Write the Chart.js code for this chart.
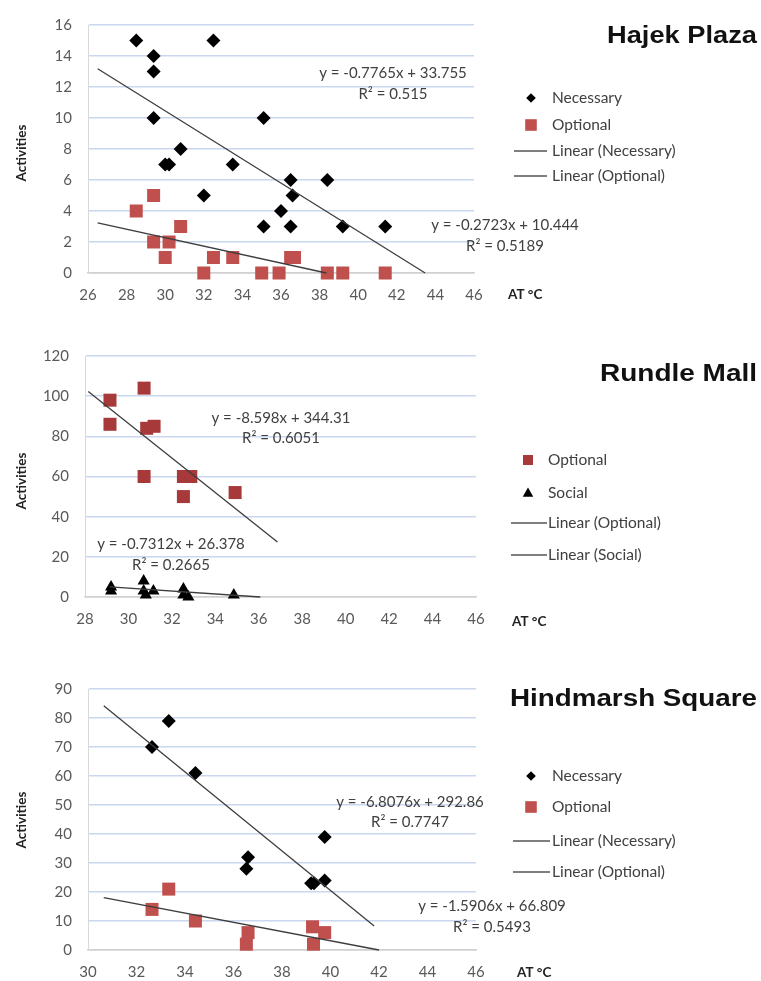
<!DOCTYPE html>
<html>
<head>
<meta charset="utf-8">
<title>Activities vs AT</title>
<script src="https://cdn.jsdelivr.net/npm/chart.js@4.4.1/dist/chart.umd.min.js"></script>
<style>
  body { margin: 0; background: #fff; }
  #wrap { position: relative; width: 761px; height: 981px; }
  canvas { position: absolute; left: 0; }
</style>
</head>
<body>
<div id="wrap">
  <canvas id="hajek" width="761" height="320" style="top:0"></canvas>
  <canvas id="rundle" width="761" height="320" style="top:320px"></canvas>
  <canvas id="hind" width="761" height="341" style="top:640px"></canvas>
</div>
<script>
// ---- Hajek Plaza ----
const hajekNecX = [28.5, 29.4, 29.4, 32.5, 29.4, 30.8, 30.0, 30.2, 33.5, 35.1, 32.0, 36.5, 36.6, 36.0, 35.1, 36.5, 38.4, 39.2, 41.4];
const hajekNecY = [15, 14, 13, 15, 10, 8, 7, 7, 7, 10, 5, 6, 5, 4, 3, 3, 6, 3, 3];
const hajekOptX = [28.5, 29.4, 29.4, 30.2, 30.0, 30.8, 32.0, 32.5, 33.5, 35.0, 35.9, 36.5, 36.7, 38.4, 39.2, 41.4];
const hajekOptY = [4, 5, 2, 2, 1, 3, 0, 1, 1, 0, 0, 1, 1, 0, 0, 0];
const hajekNecTrendX = [26.5, 43.47];
const hajekNecTrendY = [13.18, 0];
const hajekOptTrendX = [26.5, 38.35];
const hajekOptTrendY = [3.23, 0];

// ---- Rundle Mall ----
const rundleOptX = [29.15, 29.15, 30.72, 30.84, 31.18, 30.72, 32.53, 32.87, 32.53, 34.91];
const rundleOptY = [98, 86, 104, 84, 85, 60, 60, 60, 50, 52];
const rundleSocX = [29.2, 29.2, 30.7, 30.7, 30.8, 31.15, 32.53, 32.53, 32.76, 34.85];
const rundleSocY = [5, 3, 8, 3, 1, 3, 4, 1, 0, 1];
const rundleOptTrendX = [28.15, 36.86];
const rundleOptTrendY = [102.3, 27.4];
const rundleSocTrendX = [29.15, 36.07];
const rundleSocTrendY = [5.06, 0];

// ---- Hindmarsh Square ----
const hindNecX = [33.33, 32.64, 34.43, 36.6, 36.53, 39.2, 39.32, 39.76, 39.76];
const hindNecY = [79, 70, 61, 32, 28, 23, 23, 39, 24];
const hindOptX = [32.64, 33.33, 34.43, 36.6, 36.53, 39.26, 39.3, 39.76];
const hindOptY = [14, 21, 10, 6, 2, 8, 2, 6];
const hindNecTrendX = [30.65, 41.8];
const hindNecTrendY = [84.2, 8.3];
const hindOptTrendX = [30.65, 42.0];
const hindOptTrendY = [18.06, 0];

const RED = '#c0504d';
const RED_DARK = '#a8393a';
const LINE = '#3d3d3d';
const GRID = '#c9d8ef';
const TICK_FONT = { family: 'Lato, "Open Sans", sans-serif', size: 15 };
const TEXT_FONT = 'Lato, "Open Sans", sans-serif';

function pts(xs, ys) {
  return xs.map((x, i) => ({ x: x, y: ys[i] }));
}

function drawMarker(ctx, style, x, y, r, color) {
  ctx.fillStyle = color;
  ctx.beginPath();
  if (style === 'diamond') {
    ctx.moveTo(x, y - r); ctx.lineTo(x + r, y); ctx.lineTo(x, y + r); ctx.lineTo(x - r, y);
  } else if (style === 'square') {
    ctx.rect(x - r, y - r, 2 * r, 2 * r);
  } else {
    ctx.moveTo(x, y - r); ctx.lineTo(x + r * 0.95, y + r * 0.7); ctx.lineTo(x - r * 0.95, y + r * 0.7);
  }
  ctx.closePath();
  ctx.fill();
}

// titles, legends, equations and axis names
const overlay = {
  id: 'overlay',
  afterDraw(chart, args, o) {
    const ctx = chart.ctx;
    const dy = o.top;
    ctx.save();

    // title is wide in the source, stretch it to its width
    ctx.fillStyle = '#111';
    ctx.font = 'bold 23px "Liberation Sans", Arial, sans-serif';
    ctx.textAlign = 'left';
    ctx.textBaseline = 'middle';
    const tw = ctx.measureText(o.title).width;
    ctx.save();
    ctx.translate(757 - o.titleW, o.titleY - dy);
    ctx.scale(o.titleW / tw, 1);
    ctx.fillText(o.title, 0, 0);
    ctx.restore();

    // legend
    ctx.font = '15.5px ' + TEXT_FONT;
    o.legend.forEach(item => {
      const y = item.y - dy;
      if (item.kind === 'line') {
        ctx.strokeStyle = '#555';
        ctx.lineWidth = 1.3;
        ctx.beginPath();
        ctx.moveTo(o.lineX0, y); ctx.lineTo(o.lineX1, y);
        ctx.stroke();
      } else {
        drawMarker(ctx, item.kind, o.markerX, y, item.r, item.color);
      }
      ctx.fillStyle = '#404040';
      ctx.fillText(item.label, o.textX, y);
    });

    // trendline equations
    ctx.textAlign = 'center';
    ctx.fillStyle = '#404040';
    ctx.font = '15px ' + TEXT_FONT;
    o.notes.forEach(n => ctx.fillText(n.text, n.x, n.y - dy));

    // axis names
    ctx.font = 'bold 13.5px ' + TEXT_FONT;
    ctx.fillStyle = '#222';
    ctx.textAlign = 'left';
    ctx.fillText('AT \u00B0C', o.atX, o.atY - dy);
    ctx.translate(22, o.actY - dy);
    ctx.rotate(-Math.PI / 2);
    ctx.textAlign = 'center';
    ctx.fillText('Activities', 0, 0);
    ctx.restore();
  }
};

function makeChart(id, cfg) {
  const area = cfg.area;
  const h = document.getElementById(id).height;
  const datasets = [];
  cfg.trends.forEach(t => datasets.push({
    type: 'line',
    data: t,
    borderColor: LINE,
    borderWidth: 1.3,
    pointRadius: 0,
    fill: false,
    clip: false,
    order: 0
  }));
  cfg.series.forEach(s => datasets.push({
    type: 'scatter',
    data: s.data,
    pointStyle: s.style,
    pointRadius: s.r,
    pointHoverRadius: s.r,
    backgroundColor: s.color,
    borderColor: s.color,
    borderWidth: 0,
    clip: false,
    order: 1
  }));
  return new Chart(document.getElementById(id), {
    type: 'scatter',
    data: { datasets: datasets },
    options: {
      responsive: false,
      animation: false,
      events: [],
      layout: { padding: { left: 0, top: area.top, right: 761 - area.right, bottom: 0 } },
      plugins: {
        legend: { display: false },
        tooltip: { enabled: false },
        overlay: cfg.overlay
      },
      scales: {
        x: {
          type: 'linear',
          min: cfg.xMin, max: cfg.xMax,
          afterFit: axis => { axis.height = h - area.bottom; },
          grid: { display: false, drawTicks: false },
          border: { display: true, color: '#d0d0d0', width: 1.5 },
          ticks: { stepSize: 2, padding: 13, color: '#595959', font: TICK_FONT }
        },
        y: {
          min: 0, max: cfg.yMax,
          afterFit: axis => { axis.width = area.left; },
          grid: {
            drawTicks: false,
            lineWidth: 1.5,
            color: c => (c.tick && c.tick.value === 0) ? '#d0d0d0' : GRID
          },
          border: { display: true, color: '#d9d9d9', width: 1 },
          ticks: { stepSize: cfg.yStep, padding: 16, color: '#595959', font: TICK_FONT }
        }
      }
    },
    plugins: [overlay]
  });
}

makeChart('hajek', {
  area: { left: 88, top: 20, right: 474, bottom: 273 },
  xMin: 26, xMax: 46, yMax: 16, yStep: 2,
  trends: [pts(hajekNecTrendX, hajekNecTrendY), pts(hajekOptTrendX, hajekOptTrendY)],
  series: [
    { data: pts(hajekNecX, hajekNecY), style: 'rectRot', r: 7, color: '#000' },
    { data: pts(hajekOptX, hajekOptY), style: 'rect', r: 9.2, color: RED }
  ],
  overlay: {
    top: 0, title: 'Hajek Plaza', titleW: 150, titleY: 37,
    markerX: 531, textX: 552, lineX0: 514, lineX1: 547,
    legend: [
      { kind: 'diamond', r: 4.8, color: '#000', label: 'Necessary', y: 98 },
      { kind: 'square', r: 5.8, color: RED, label: 'Optional', y: 125 },
      { kind: 'line', label: 'Linear (Necessary)', y: 151 },
      { kind: 'line', label: 'Linear (Optional)', y: 176 }
    ],
    notes: [
      { text: 'y = -0.7765x + 33.755', x: 393, y: 73 },
      { text: 'R\u00B2 = 0.515', x: 393, y: 94 },
      { text: 'y = -0.2723x + 10.444', x: 505, y: 225 },
      { text: 'R\u00B2 = 0.5189', x: 505, y: 246 }
    ],
    atX: 508, atY: 295, actY: 153
  }
});

makeChart('rundle', {
  area: { left: 85, top: 36, right: 476, bottom: 277 },
  xMin: 28, xMax: 46, yMax: 120, yStep: 20,
  trends: [pts(rundleOptTrendX, rundleOptTrendY), pts(rundleSocTrendX, rundleSocTrendY)],
  series: [
    { data: pts(rundleOptX, rundleOptY), style: 'rect', r: 9.2, color: RED_DARK },
    { data: pts(rundleSocX, rundleSocY), style: 'triangle', r: 7, color: '#000' }
  ],
  overlay: {
    top: 320, title: 'Rundle Mall', titleW: 157, titleY: 375,
    markerX: 528, textX: 548, lineX0: 511, lineX1: 547,
    legend: [
      { kind: 'square', r: 5, color: RED_DARK, label: 'Optional', y: 460 },
      { kind: 'triangle', r: 5.5, color: '#000', label: 'Social', y: 493 },
      { kind: 'line', label: 'Linear (Optional)', y: 523 },
      { kind: 'line', label: 'Linear (Social)', y: 555 }
    ],
    notes: [
      { text: 'y = -8.598x + 344.31', x: 281, y: 418 },
      { text: 'R\u00B2 = 0.6051', x: 281, y: 438 },
      { text: 'y = -0.7312x + 26.378', x: 171, y: 544 },
      { text: 'R\u00B2 = 0.2665', x: 171, y: 565 }
    ],
    atX: 512, atY: 622, actY: 481
  }
});

makeChart('hind', {
  area: { left: 88, top: 49, right: 476, bottom: 310 },
  xMin: 30, xMax: 46, yMax: 90, yStep: 10,
  trends: [pts(hindNecTrendX, hindNecTrendY), pts(hindOptTrendX, hindOptTrendY)],
  series: [
    { data: pts(hindNecX, hindNecY), style: 'rectRot', r: 7, color: '#000' },
    { data: pts(hindOptX, hindOptY), style: 'rect', r: 9.2, color: RED }
  ],
  overlay: {
    top: 640, title: 'Hindmarsh Square', titleW: 247, titleY: 700,
    markerX: 531, textX: 552, lineX0: 513, lineX1: 550,
    legend: [
      { kind: 'diamond', r: 4.8, color: '#000', label: 'Necessary', y: 776 },
      { kind: 'square', r: 5.8, color: RED, label: 'Optional', y: 807 },
      { kind: 'line', label: 'Linear (Necessary)', y: 841 },
      { kind: 'line', label: 'Linear (Optional)', y: 872 }
    ],
    notes: [
      { text: 'y = -6.8076x + 292.86', x: 410, y: 802 },
      { text: 'R\u00B2 = 0.7747', x: 410, y: 822 },
      { text: 'y = -1.5906x + 66.809', x: 492, y: 906 },
      { text: 'R\u00B2 = 0.5493', x: 492, y: 927 }
    ],
    atX: 517, atY: 973, actY: 820
  }
});
</script>
</body>
</html>
